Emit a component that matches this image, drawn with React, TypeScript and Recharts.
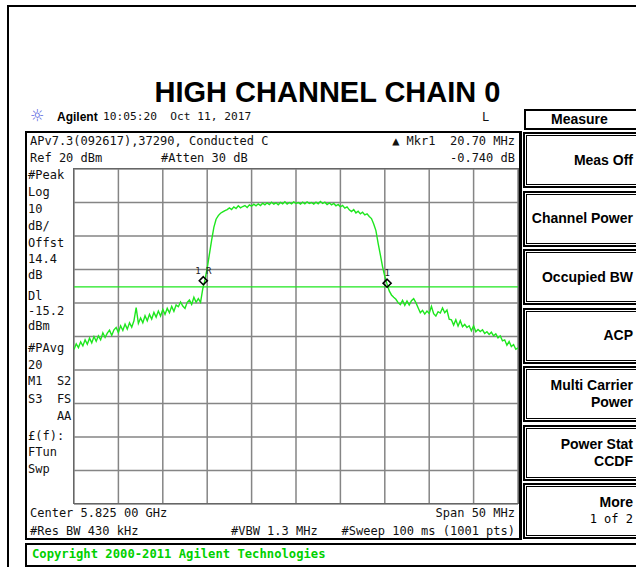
import { LineChart, Line, XAxis, YAxis, CartesianGrid, ReferenceLine, ReferenceDot } from "recharts";

// trace, 0.25 MHz steps across the 50 MHz span (offset from 5.800 GHz)
const TRACE_DBM = [
  -33.9, -32.2, -33.3, -31.6, -32.8, -31.0, -32.3, -30.5, -31.9, -30.0,
  -31.4, -29.8, -31.0, -28.9, -30.3, -29.0, -28.1, -29.7, -28.0, -27.3,
  -28.8, -26.8, -28.2, -26.3, -27.8, -25.9, -27.2, -25.3, -21.4, -26.1,
  -24.5, -25.9, -23.8, -25.3, -23.4, -24.8, -22.8, -24.2, -22.4, -23.9,
  -21.9, -23.4, -21.6, -22.9, -21.0, -22.5, -20.6, -21.1, -19.7, -20.9,
  -21.6, -19.8, -19.1, -20.4, -18.3, -19.8, -18.7, -19.8, -15.8, -13.1,
  -9.6, -5.4, -1.2, 2.6, 5.0, 6.1, 6.8, 7.2, 7.6, 7.9,
  8.4, 7.9, 8.7, 8.2, 9.0, 8.4, 8.8, 9.1, 8.5, 9.3,
  8.9, 9.5, 9.0, 9.6, 9.1, 9.8, 9.3, 9.9, 9.4, 10.1,
  9.5, 9.9, 9.3, 10.0, 9.6, 10.2, 9.5, 10.0, 9.6, 10.2,
  9.7, 10.0, 9.5, 10.1, 9.6, 10.2, 9.7, 10.0, 9.5, 10.1,
  9.6, 10.3, 9.7, 10.1, 9.4, 9.9, 9.3, 9.7, 9.0, 9.4,
  8.7, 9.1, 8.3, 8.7, 7.8, 7.3, 7.9, 6.9, 7.4, 6.6,
  7.1, 6.3, 6.6, 5.8, 5.2, 3.6, 1.6, -2.2, -5.6, -9.2,
  -12.0, -14.3, -16.4, -17.6, -18.3, -18.9, -19.9, -20.5, -19.2, -20.7,
  -19.4, -20.6, -19.3, -18.7, -19.9, -21.4, -22.9, -22.2, -23.3, -22.4,
  -23.1, -21.0, -23.2, -23.9, -22.6, -23.0, -21.5, -22.9, -22.1, -24.8,
  -25.0, -26.6, -25.0, -26.9, -25.3, -27.1, -26.4, -27.3, -26.8, -28.3,
  -26.8, -28.6, -27.9, -28.5, -28.0, -29.1, -28.6, -29.4, -28.7, -29.8,
  -29.2, -30.4, -29.8, -31.3, -31.0, -32.6, -31.5, -33.0, -32.4, -33.8,
  -33.4,
];
const FREQ_STEP = 0.25;
const FREQ_TICKS = [0, 5, 10, 15, 20, 25, 30, 35, 40, 45, 50];
const LEVEL_TICKS = [-80, -70, -60, -50, -40, -30, -20, -10, 0, 10, 20];
const DISPLAY_LINE = -15.2;
const MARKER_REF = { f: 14.56, dbm: -13.35, label: "1 R" };
const MARKER_DELTA = { f: 35.26, dbm: -14.09, label: "1" };

const LEFT_LABELS = [
  "#Peak", "Log", "10", "dB/", "Offst", "14.4", "dB", "Dl", "-15.2", "dBm",
  "#PAvg", "20", "M1  S2", "S3  FS", "    AA", "£(f):", "FTun", "Swp",
];
const LEFT_LABEL_Y = [175, 192, 209, 226, 243, 259, 275, 296, 311, 326, 348, 365, 381, 399, 416, 436, 452, 469];

const SOFTKEYS = [
  ["Meas Off"],
  ["Channel Power"],
  ["Occupied BW"],
  ["ACP"],
  ["Multi Carrier", "Power"],
  ["Power Stat", "CCDF"],
  ["More", "1 of 2"],
];

const data = TRACE_DBM.map((v, i) => ({ f: i * FREQ_STEP, dbm: v }));

const MONO = "'DejaVu Sans Mono', monospace";
const SANS = "'Liberation Sans', Arial, sans-serif";
const GREEN = "#1ee61e";

const markerShape = (label: string) => (props: any) => {
  const { cx, cy } = props;
  return (
    <g>
      <polygon
        points={`${cx},${cy - 4} ${cx + 4},${cy} ${cx},${cy + 4} ${cx - 4},${cy}`}
        fill="none"
        stroke="#000"
        strokeWidth={1.6}
      />
      <text x={cx} y={cy - 7} fontSize={9} textAnchor="middle" fontFamily={MONO} fill="#222">
        {label}
      </text>
    </g>
  );
};

const txt = (s: string, left: number, top: number, extra: any = {}) => (
  <div key={s + top} style={{ position: "absolute", left, top, fontFamily: MONO, fontSize: 12, lineHeight: "14px", whiteSpace: "pre", color: "#111", ...extra }}>
    {s}
  </div>
);

const rtxt = (s: string, right: number, top: number) => (
  <div style={{ position: "absolute", right: 636 - right, top, fontFamily: MONO, fontSize: 12, lineHeight: "14px", whiteSpace: "pre", textAlign: "right", color: "#111" }}>
    {s}
  </div>
);

export default function App() {
  return (
    <div style={{ position: "absolute", left: 0, top: 0, width: 636, height: 567, background: "#fff", overflow: "hidden" }}>
      {/* outer frame */}
      <div style={{ position: "absolute", left: 7, top: 5, width: 640, height: 580, border: "2px solid #000" }} />

      <div style={{ position: "absolute", left: 0, width: 655, top: 76, textAlign: "center", fontFamily: SANS, fontWeight: "bold", fontSize: 29, lineHeight: "32px", color: "#000" }}>
        HIGH CHANNEL CHAIN 0
      </div>

      {/* header line */}
      <div style={{ position: "absolute", left: 30, top: 106, fontSize: 16, lineHeight: "20px", color: "#5a66e0", fontFamily: "'DejaVu Sans', sans-serif" }}>☼</div>
      <div style={{ position: "absolute", left: 57, top: 110, fontFamily: SANS, fontWeight: "bold", fontSize: 12, lineHeight: "14px" }}>Agilent</div>
      {txt("10:05:20  Oct 11, 2017", 103, 110, { fontSize: 11.2 })}
      {txt("L", 482, 110)}

      {/* screen */}
      <div style={{ position: "absolute", left: 25, top: 131, width: 492, height: 405, border: "2px solid #000", borderRightWidth: 3 }} />
      {txt("APv7.3(092617),37290, Conducted C", 30, 134)}
      {txt("Ref 20 dBm", 30, 151)}
      {txt("#Atten 30 dB", 161, 151)}
      {rtxt("▲ Mkr1  20.70 MHz", 515, 134)}
      {rtxt("-0.740 dB", 515, 151)}

      {LEFT_LABELS.map((s, i) => txt(s, 28, LEFT_LABEL_Y[i] - 7))}

      <div style={{ position: "absolute", left: 72, top: 167 }}>
        <LineChart width={448} height={339} data={data} margin={{ top: 2, right: 2, bottom: 2, left: 2 }}>
          <CartesianGrid stroke="#858585" strokeWidth={1.5} />
          <XAxis type="number" dataKey="f" domain={[0, 50]} ticks={FREQ_TICKS} hide />
          <YAxis type="number" domain={[-80, 20]} ticks={LEVEL_TICKS} hide />
          <ReferenceLine y={DISPLAY_LINE} stroke={GREEN} strokeWidth={1.2} />
          <Line
            type="linear"
            dataKey="dbm"
            stroke={GREEN}
            strokeWidth={1.4}
            dot={false}
            isAnimationActive={false}
          />
          <ReferenceDot x={MARKER_REF.f} y={MARKER_REF.dbm} r={4} shape={markerShape(MARKER_REF.label)} />
          <ReferenceDot x={MARKER_DELTA.f} y={MARKER_DELTA.dbm} r={4} shape={markerShape(MARKER_DELTA.label)} />
        </LineChart>
      </div>
      <div style={{ position: "absolute", left: 73, top: 168, width: 444, height: 334, border: "1px solid #666" }} />

      {txt("Center 5.825 00 GHz", 30, 506)}
      {txt("#Res BW 430 kHz", 30, 524)}
      {txt("#VBW 1.3 MHz", 231, 524)}
      {rtxt("Span 50 MHz", 515, 506)}
      {rtxt("#Sweep 100 ms (1001 pts)", 515, 524)}

      {/* copyright bar */}
      <div style={{ position: "absolute", left: 25, top: 543, width: 620, height: 20, border: "2px solid #000" }} />
      <div style={{ position: "absolute", left: 32, top: 547, fontFamily: MONO, fontWeight: "bold", fontSize: 12.2, lineHeight: "14px", color: "#00d000" }}>
        Copyright 2000-2011 Agilent Technologies
      </div>

      {/* softkeys */}
      <div style={{ position: "absolute", left: 524, top: 109, width: 120, height: 17, border: "2px solid #000", fontFamily: SANS, fontWeight: "bold", fontSize: 14, lineHeight: "17px", paddingLeft: 25 }}>
        Measure
      </div>
      {SOFTKEYS.map((lines, i) => (
        <div
          key={i}
          style={{
            position: "absolute",
            left: 523,
            top: 132 + i * 58.5,
            width: 108,
            height: 52,
            border: "2px solid #000",
            boxShadow: "inset 0 0 0 1px #fff, inset 0 0 0 2px #000",
            display: "flex",
            flexDirection: "column",
            justifyContent: "center",
            alignItems: "flex-end",
            paddingRight: 12,
            boxSizing: "content-box",
            fontFamily: SANS,
            fontSize: 14,
            lineHeight: "17px",
          }}
        >
          {lines.map((l, j) => {
            const small = i === 6 && j === 1;
            return (
              <div key={j} style={{ fontWeight: small ? "normal" : "bold", fontFamily: small ? MONO : SANS, fontSize: small ? 12 : 14, whiteSpace: "nowrap" }}>
                {l}
              </div>
            );
          })}
        </div>
      ))}
    </div>
  );
}
